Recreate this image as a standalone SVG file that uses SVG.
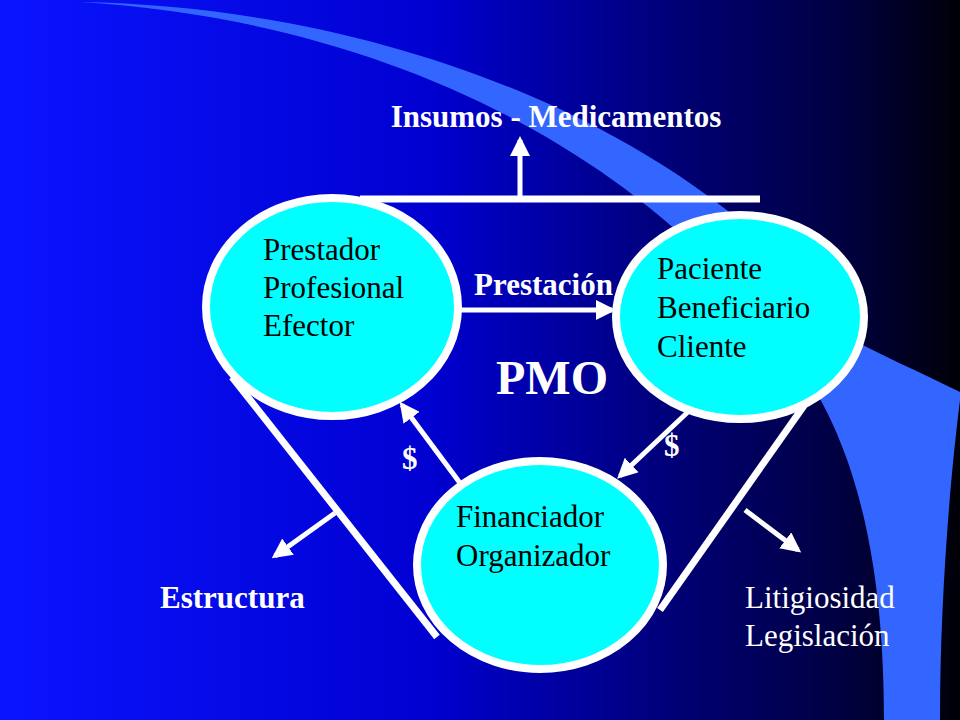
<svg xmlns="http://www.w3.org/2000/svg" width="960" height="720" viewBox="0 0 960 720">
<defs>
<linearGradient id="bg" x1="0" y1="0" x2="1" y2="0">
<stop offset="0" stop-color="#0a14ff"/><stop offset="0.45" stop-color="#0000d0"/><stop offset="0.72" stop-color="#000070"/><stop offset="0.88" stop-color="#000040"/><stop offset="1" stop-color="#000008"/>
</linearGradient>
<marker id="ah" viewBox="0 0 10 10" refX="8" refY="5" markerWidth="4" markerHeight="4" orient="auto" markerUnits="strokeWidth"><path d="M0,0 L10,5 L0,10 Z" fill="#fff"/></marker>
<style>
.ln{stroke:#fff;stroke-width:7;fill:none}
.ar{stroke:#fff;stroke-width:5;fill:none;marker-end:url(#ah)}
.el{fill:#00ffff;stroke:#fff;stroke-width:8}
.t{font-family:"Liberation Serif",serif;font-size:31px;fill:#000}
.w{font-family:"Liberation Serif",serif;font-size:31px;fill:#fff}
.b{font-weight:bold}
.big{font-size:48px}
</style>
</defs>
<rect width="960" height="720" fill="url(#bg)"/>
<path d="M80,2 C380,20 660,150 815,390 C868,480 884,600 884,720 L940,720 C940,600 950,480 960,400 L960,392 C920,372 880,355 850,338 C720,150 420,8 80,2 Z" fill="#3366ff"/>
<g id="connectors">
<path class="ln" d="M360,199 H760"/>
<path class="ar" d="M520,199 V140"/>
<path class="ar" d="M460,310 H612"/>
<path class="ln" d="M232,377 L437,637"/>
<path class="ln" d="M808,400 L660,610"/>
<path class="ar" d="M335,513 L275,556"/>
<path class="ar" d="M745,510 L798,550"/>
<path class="ar" d="M460,483 L402,405"/>
<path class="ar" d="M690,410 L620,476"/>
</g>
<g id="prestador"><ellipse class="el" cx="332" cy="307" rx="126" ry="109"/>
<text class="t" x="263" y="260">Prestador</text><text class="t" x="263" y="298">Profesional</text><text class="t" x="263" y="336">Efector</text></g>
<g id="paciente"><ellipse class="el" cx="740" cy="317" rx="124" ry="102"/>
<text class="t" x="657" y="279">Paciente</text><text class="t" x="657" y="318">Beneficiario</text><text class="t" x="657" y="357">Cliente</text></g>
<g id="financiador"><ellipse class="el" cx="540" cy="565" rx="123" ry="104"/>
<text class="t" x="456" y="527">Financiador</text><text class="t" x="456" y="566">Organizador</text></g>
<g id="labels">
<text class="w b" x="556" y="127" text-anchor="middle">Insumos - Medicamentos</text>
<text class="w b" x="474" y="295">Prestación</text>
<text class="w b big" x="552" y="394" text-anchor="middle">PMO</text>
<text class="w b" x="402" y="469">$</text>
<text class="w b" x="664" y="456">$</text>
<text class="w b" x="160" y="608">Estructura</text>
<text class="w" x="745" y="608">Litigiosidad</text>
<text class="w" x="745" y="646">Legislación</text>
</g>
</svg>
